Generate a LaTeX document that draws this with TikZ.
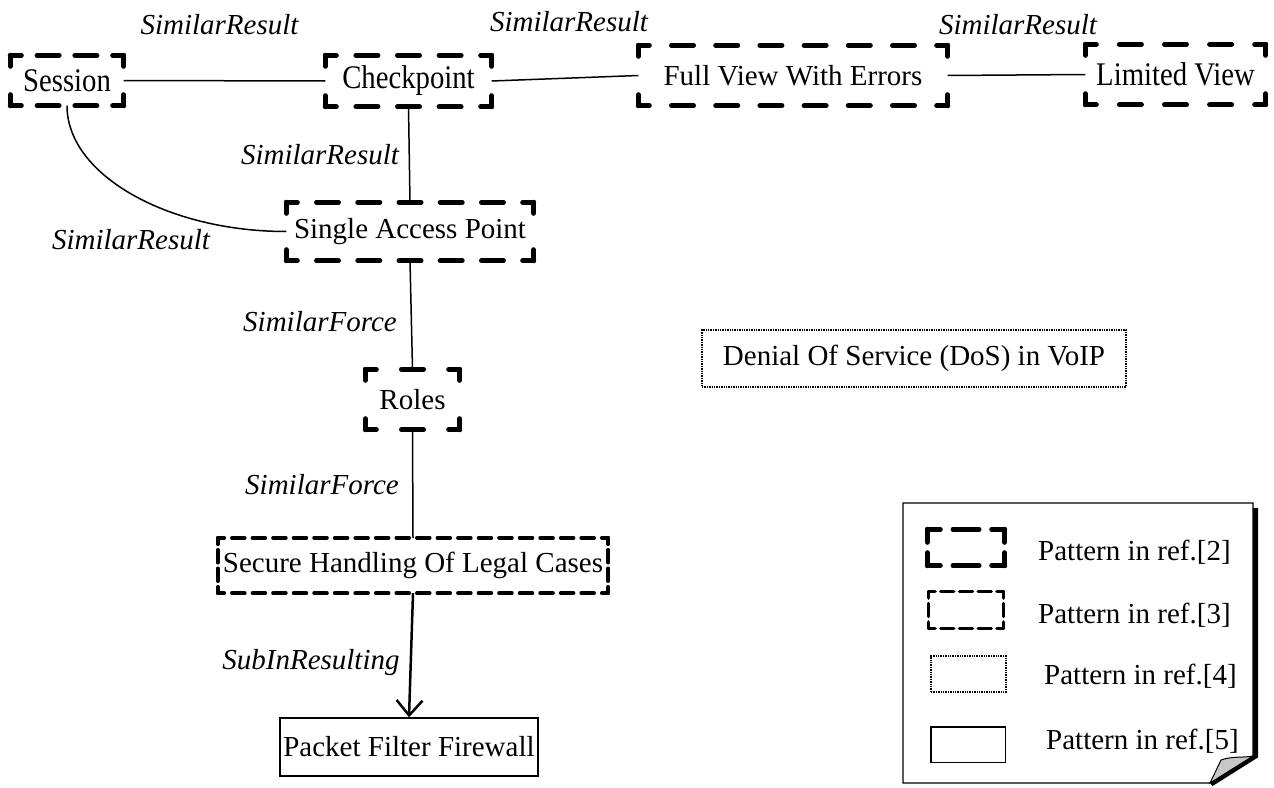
\documentclass[tikz,border=0pt]{standalone}
\usepackage{fontspec}
\setmainfont{Liberation Serif}
\newfontfamily\tallserif[FakeStretch=0.87]{Liberation Serif}
\usetikzlibrary{arrows.meta,calc}
% one dashed side: half dashes at both ends, gaps stretched to fit the side
\newcommand\dashedside[5]{%
  \path let \p1=(#1), \p2=(#2), \n1={veclen(\x2-\x1,\y2-\y1)},
            \n2={max(1,round(\n1/(#3+#4)))}, \n3={\n1/\n2-#3*1pt}, \n4={#3/2*1pt}
        in \pgfextra{\xdef\sidegap{\n3}\xdef\sidephase{\n4}};
  \draw[line width=#5, line cap=round, dash pattern=on #3pt off \sidegap,
        dash phase=\sidephase] (#1) -- (#2);
}
% dashed frame round a node: #1 node, #2 dash, #3 gap, #4 line width
\newcommand\dashedframe[4]{%
  \dashedside{#1.north west}{#1.north east}{#2}{#3}{#4}
  \dashedside{#1.north east}{#1.south east}{#2}{#3}{#4}
  \dashedside{#1.south east}{#1.south west}{#2}{#3}{#4}
  \dashedside{#1.south west}{#1.north west}{#2}{#3}{#4}
}
\begin{document}
\begin{tikzpicture}[x=1pt,y=-1pt,
  txt/.style={font=\fontsize{29}{34}\selectfont, inner sep=0pt},
  tall/.style={font=\tallserif\fontsize{33}{38}\selectfont},
  lbl/.style={font=\itshape\fontsize{29}{34}\selectfont, inner sep=0pt},
  boxC/.style={txt, draw, line width=2pt, dash pattern=on 1.4pt off 1pt},
  boxD/.style={txt, draw, line width=1.5pt},
  link/.style={line width=1.5pt},
  rel/.style={line width=2.5pt, -{Straight Barb[length=15pt,width=26pt,line width=2.5pt]}}]
\useasboundingbox (0,0) rectangle (1274,787);
\fill[white] (0,0) rectangle (1274,787);

% pattern nodes
\node[txt, tall, minimum width=113pt, minimum height=50pt] (ses)   at (67,80.5)    {Session};
\node[txt, tall, minimum width=166pt, minimum height=51pt] (chk)   at (408.5,81)   {Checkpoint};
\node[txt, minimum width=309pt, minimum height=60pt] (fve)   at (793,75.5)   {Full View With Errors};
\node[txt, tall, minimum width=180pt, minimum height=60pt] (lv)    at (1175.5,74.5){Limited View};
\node[txt, minimum width=247pt, minimum height=58pt] (sap)   at (410,231.5)  {Single Access Point};
\node[txt, minimum width=94pt,  minimum height=60pt] (roles) at (412.5,399.5){Roles};
\node[txt, minimum width=390pt, minimum height=55pt] (shlc)  at (413,565.5)  {Secure Handling Of Legal Cases};
\node[boxD, minimum width=258pt, minimum height=58pt] (pff)   at (409,747)    {Packet Filter Firewall};
\node[boxC, minimum width=424pt, minimum height=57pt] (dos)   at (914,358.5)  {Denial Of Service (DoS) in VoIP};

% legend sheet with shadow and curled corner
\draw[line width=5pt, line join=miter] (1255.5,508) -- (1255.5,756) -- (1211,784);
\draw[line width=1.2pt, fill=white] (903,503) -- (1253,503) -- (1253,756) -- (1210,783) -- (903,783) -- cycle;
\draw[line width=1pt, fill=black!22] (1210,783) -- (1221,760) .. controls (1232,756) and (1242,758) .. (1253,756) -- cycle;

% legend entries
\node[minimum width=77pt, minimum height=36pt] (k1) at (966,547.5) {};
\node[minimum width=74.5pt, minimum height=36.5pt] (k2) at (966,610) {};
\node[boxC, minimum width=75pt, minimum height=36pt] (k3) at (968.5,674) {};
\node[boxD, minimum width=74.5pt, minimum height=35.5pt] (k4) at (968,744.5) {};
\node[txt, anchor=west] (t1) at (1038,552) {Pattern in ref.[2]};
\node[txt, anchor=west] (t2) at (1038,615) {Pattern in ref.[3]};
\node[txt, anchor=west] (t3) at (1044,676) {Pattern in ref.[4]};
\node[txt, anchor=west] (t4) at (1046,741) {Pattern in ref.[5]};

% dashed frames
\foreach \nd in {ses,chk,fve,lv,sap,roles}{\dashedframe{\nd}{22}{22}{5pt}}
\dashedframe{k1}{26}{20}{5pt}
\dashedframe{shlc}{13}{8}{3.5pt}
\dashedframe{k2}{13}{8}{3.5pt}

% relations
\draw[link] (ses.east) -- (chk.west);
\draw[link] (chk.east) -- (fve.west);
\draw[link] (fve.east) -- (lv.west);
\draw[link] (chk.south) -- (sap.north);
\draw[link] (ses.south) .. controls +(0,69) and +(-119,0) .. (sap.west);
\draw[link] (sap.south) -- (roles.north);
\draw[link] (roles.south) -- (shlc.north);
\draw[rel] (shlc.south) -- (pff.north);

% relation labels
\node[lbl] (r1) at (219.5,25) {SimilarResult};
\node[lbl] (r2) at (569,22)   {SimilarResult};
\node[lbl] (r3) at (1018,25)  {SimilarResult};
\node[lbl] (r4) at (320,155)  {SimilarResult};
\node[lbl] (r5) at (131,240)  {SimilarResult};
\node[lbl] (f1) at (320,322)  {SimilarForce};
\node[lbl] (f2) at (322,485)  {SimilarForce};
\node[lbl] (s1) at (311,663)  {SubInResulting};
\end{tikzpicture}
\end{document}
